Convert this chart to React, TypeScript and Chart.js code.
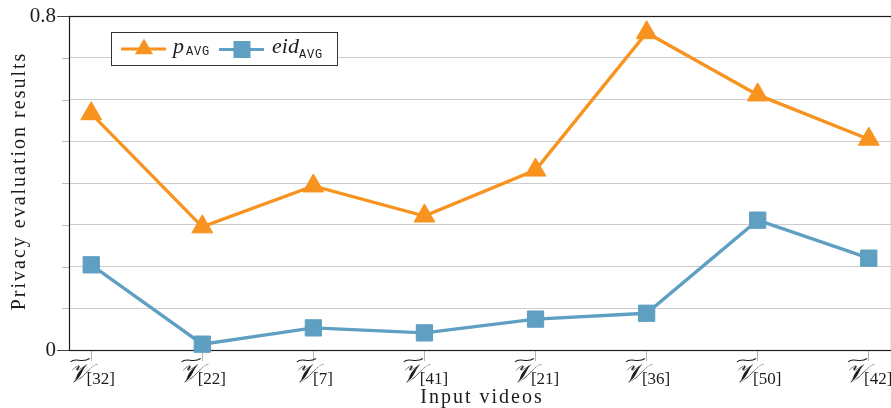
import { useEffect, useRef } from 'react';
import { Chart, registerables } from 'chart.js';

Chart.register(...registerables);

// Video identifiers shown under each category (subscripts of the V symbol)
const videoIds = ['32', '22', '7', '41', '21', '36', '50', '42'];
// Average privacy score p_AVG per input video
const pAvg = [0.566, 0.295, 0.393, 0.321, 0.431, 0.76, 0.611, 0.505];
// Average identification error eid_AVG per input video
const eidAvg = [0.204, 0.014, 0.053, 0.041, 0.074, 0.088, 0.311, 0.22];
// Horizontal grid positions and the ones carrying a label
const yGridValues = [0, 0.1, 0.2, 0.3, 0.4, 0.5, 0.6, 0.7, 0.8];
const yTickLabels = ['0', '0.8'];

const ORANGE = '#F7931E';
const BLUE = '#5E9FC2';
const INK = '#1c1c1c';
const SERIF = '"Liberation Serif", "DejaVu Serif", serif';
const MONO = '"Liberation Mono", "DejaVu Sans Mono", monospace';
const V_GLYPH = '\u{1D4B1}';

const fmt = (v: number) => (Math.round(v * 10) / 10).toString();

const decorations = {
  id: 'decorations',
  beforeDatasetsDraw(chart: Chart) {
    const { ctx, chartArea } = chart;
    const { left, top, right, bottom } = chartArea;
    const ys = chart.scales.y;
    ctx.save();
    // y tick marks
    yGridValues.forEach((v) => {
      const py = Math.round(ys.getPixelForValue(v)) + 0.5;
      const labeled = yTickLabels.includes(fmt(v));
      ctx.strokeStyle = labeled ? '#444' : '#bdbdbd';
      ctx.lineWidth = 1;
      ctx.beginPath();
      ctx.moveTo(labeled ? left - 12 : left - 7, py);
      ctx.lineTo(left, py);
      ctx.stroke();
    });
    // frame
    ctx.strokeStyle = INK;
    ctx.lineWidth = 1.2;
    ctx.strokeRect(Math.round(left) + 0.5, Math.round(top) + 0.5, right - left, bottom - top);
    ctx.restore();
  },
  afterDraw(chart: Chart) {
    const { ctx, chartArea } = chart;
    const xs = chart.scales.x;
    const c = ctx as any;
    ctx.save();
    ctx.fillStyle = INK;
    ctx.strokeStyle = INK;

    // category labels: V with a wide tilde and a bracketed subscript
    videoIds.forEach((id, i) => {
      const cx = xs.getPixelForValue(i);
      ctx.font = `italic 26px ${SERIF}`;
      const vW = ctx.measureText(V_GLYPH).width;
      const sub = `[${id}]`;
      ctx.font = `17px ${SERIF}`;
      const sW = ctx.measureText(sub).width;
      const overlap = 3;
      const x0 = cx - (vW + sW - overlap) / 2;
      ctx.textAlign = 'left';
      ctx.textBaseline = 'alphabetic';
      ctx.font = `italic 26px ${SERIF}`;
      ctx.fillText(V_GLYPH, x0, chartArea.bottom + 32);
      ctx.font = `17px ${SERIF}`;
      ctx.fillText(sub, x0 + vW - overlap, chartArea.bottom + 34);
      // wide tilde
      const ta = x0 + 3;
      const tw = vW - 3;
      const ty = chartArea.bottom + 10;
      ctx.lineWidth = 1.1;
      ctx.beginPath();
      ctx.moveTo(ta, ty + 2);
      ctx.bezierCurveTo(ta + tw * 0.25, ty - 3.5, ta + tw * 0.6, ty + 4, ta + tw, ty - 1.5);
      ctx.stroke();
    });

    // axis titles
    c.letterSpacing = '2px';
    ctx.font = `20px ${SERIF}`;
    ctx.textAlign = 'center';
    ctx.fillText('Input videos', (chartArea.left + chartArea.right) / 2 + 2, 403);
    ctx.save();
    ctx.translate(25, (chartArea.top + chartArea.bottom) / 2 - 2);
    ctx.rotate(-Math.PI / 2);
    ctx.fillText('Privacy evaluation results', 0, 0);
    ctx.restore();
    c.letterSpacing = '0px';

    // legend
    const bx = 111.5, by = 32.5, bw = 226, bh = 33;
    ctx.fillStyle = '#ffffff';
    ctx.fillRect(bx, by, bw, bh);
    ctx.strokeStyle = '#333';
    ctx.lineWidth = 1;
    ctx.strokeRect(bx, by, bw, bh);
    const ly = 49;
    // orange entry
    ctx.strokeStyle = ORANGE;
    ctx.fillStyle = ORANGE;
    ctx.lineWidth = 3.2;
    ctx.beginPath();
    ctx.moveTo(121, ly);
    ctx.lineTo(166, ly);
    ctx.stroke();
    const r = 10.5;
    ctx.beginPath();
    ctx.moveTo(144, ly - r);
    ctx.lineTo(144 + r * 0.866, ly + r / 2);
    ctx.lineTo(144 - r * 0.866, ly + r / 2);
    ctx.closePath();
    ctx.fill();
    // blue entry
    ctx.strokeStyle = BLUE;
    ctx.fillStyle = BLUE;
    ctx.beginPath();
    ctx.moveTo(219, ly + 0.5);
    ctx.lineTo(264, ly + 0.5);
    ctx.stroke();
    ctx.fillRect(242 - 8.5, ly + 0.5 - 8.5, 17, 17);
    // entry texts
    ctx.fillStyle = INK;
    ctx.textAlign = 'left';
    ctx.font = `italic 22px ${SERIF}`;
    ctx.fillText('p', 173, 53);
    ctx.fillText('eid', 272, 53);
    c.letterSpacing = '0.8px';
    ctx.font = `12px ${MONO}`;
    ctx.fillText('AVG', 186, 55);
    ctx.fillText('AVG', 299, 58);
    c.letterSpacing = '0px';
    ctx.restore();
  },
};

export default function App() {
  const canvasRef = useRef<HTMLCanvasElement | null>(null);

  useEffect(() => {
    const canvas = canvasRef.current;
    if (!canvas) return;
    const chart = new Chart(canvas, {
      type: 'line',
      data: {
        datasets: [
          {
            label: 'pAVG',
            data: pAvg.map((y, i) => ({ x: i, y })),
            borderColor: ORANGE,
            backgroundColor: ORANGE,
            borderWidth: 3.3,
            pointStyle: 'triangle',
            pointRadius: 12,
            pointBorderWidth: 1,
            pointBorderColor: ORANGE,
            pointBackgroundColor: ORANGE,
            tension: 0,
            clip: false,
          },
          {
            label: 'eidAVG',
            data: eidAvg.map((y, i) => ({ x: i, y })),
            borderColor: BLUE,
            backgroundColor: BLUE,
            borderWidth: 3.3,
            pointStyle: 'rect',
            pointRadius: 11.5,
            pointBorderWidth: 1,
            pointBorderColor: BLUE,
            pointBackgroundColor: BLUE,
            tension: 0,
            clip: false,
          },
        ],
      },
      options: {
        responsive: false,
        animation: false,
        events: [],
        layout: { padding: { top: 16, right: 8, left: 0, bottom: 0 } },
        plugins: { legend: { display: false }, tooltip: { enabled: false } },
        scales: {
          x: {
            type: 'linear',
            min: -0.2,
            max: 7.2,
            afterBuildTicks: (s: any) => {
              s.ticks = videoIds.map((_, i) => ({ value: i }));
            },
            afterFit: (s: any) => {
              s.height = 58;
              s.paddingLeft = 0;
              s.paddingRight = 0;
            },
            ticks: { display: false },
            grid: {
              drawOnChartArea: false,
              drawTicks: true,
              tickLength: 11,
              color: '#b4b4b4',
              lineWidth: 1,
            },
            border: { display: false },
          },
          y: {
            type: 'linear',
            min: 0,
            max: 0.8,
            afterBuildTicks: (s: any) => {
              s.ticks = yGridValues.map((v) => ({ value: v }));
            },
            afterFit: (s: any) => {
              s.width = 69;
              s.paddingTop = 0;
              s.paddingBottom = 0;
            },
            ticks: {
              callback: (v: any) => (yTickLabels.includes(fmt(Number(v))) ? fmt(Number(v)) : ''),
              font: { family: SERIF, size: 21 },
              color: INK,
              padding: 13,
            },
            grid: {
              drawTicks: false,
              color: (ctx: any) => {
                const v = fmt(ctx.tick ? ctx.tick.value : 0);
                return yTickLabels.includes(v) ? 'rgba(0,0,0,0)' : '#cccccc';
              },
              lineWidth: 1,
            },
            border: { display: false },
          },
        },
      },
      plugins: [decorations],
    });
    return () => chart.destroy();
  }, []);

  return (
    <div
      style={{
        position: 'absolute',
        left: 0,
        top: 0,
        width: 891,
        height: 408,
        overflow: 'hidden',
        background: '#ffffff',
      }}
    >
      <canvas ref={canvasRef} width={904} height={408} style={{ display: 'block', width: 904, height: 408 }} />
    </div>
  );
}
